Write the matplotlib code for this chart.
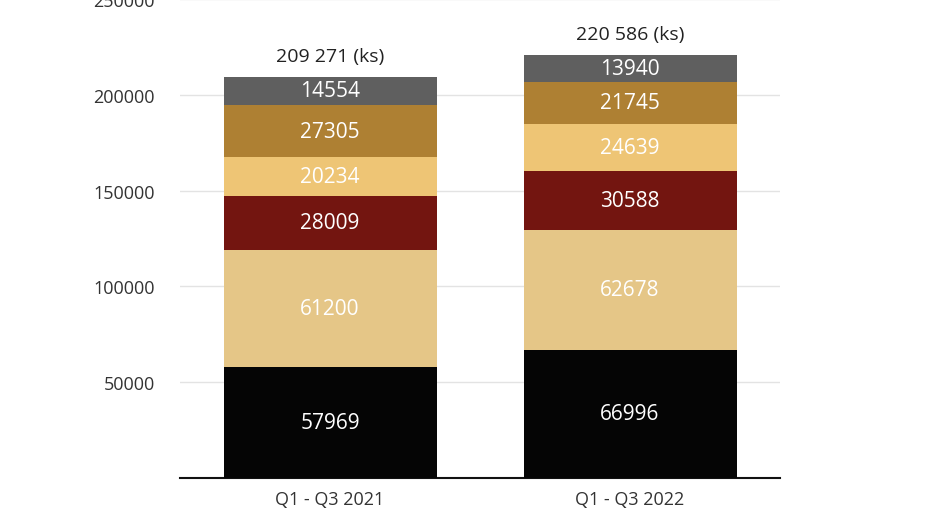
import matplotlib
matplotlib.use("Agg")
import matplotlib.pyplot as plt

categories = ["Q1 - Q3 2021", "Q1 - Q3 2022"]
s1 = [57969, 66996]
s2 = [61200, 62678]
s3 = [28009, 30588]
s4 = [20234, 24639]
s5 = [27305, 21745]
s6 = [14554, 13940]
totals_labels = ["209 271 (ks)", "220 586 (ks)"]
series = [s1, s2, s3, s4, s5, s6]
colors = ["#050505", "#E5C687", "#731510", "#EEC575", "#AE8033", "#5F5F5F"]

plt.rcParams["font.family"] = "Open Sans"
fig = plt.figure(figsize=(9.4, 5.1), dpi=100)
ax = fig.add_axes([180/940, 31/510, 600/940, 479/510])
x = list(range(len(categories)))
bottoms = [0]*len(categories)
for vals, c in zip(series, colors):
    ax.bar(x, vals, bottom=bottoms, width=0.71, color=c, zorder=3)
    for i, v in enumerate(vals):
        ax.text(x[i], bottoms[i] + v/2, str(v), ha="center", va="center",
                color="white", fontsize=15, zorder=4)
    bottoms = [b + v for b, v in zip(bottoms, vals)]
for i, t in enumerate(totals_labels):
    ax.text(x[i], bottoms[i] + 6500, t, ha="center", va="bottom", fontsize=14, color="#222222")
ax.set_xlim(-0.5, 1.5)
ax.set_ylim(0, 247700)
ax.set_yticks([0, 50000, 100000, 150000, 200000, 250000])
ax.set_yticklabels(["", "50000", "100000", "150000", "200000", "250000"])
ax.yaxis.grid(True, color="#E3E3E3", linewidth=1, zorder=0)
ax.set_xticks(x)
ax.set_xticklabels(categories)
ax.tick_params(axis="both", length=0, labelsize=13, colors="#333333", pad=18)
ax.tick_params(axis="x", pad=9)
for s in ["top", "right", "left"]:
    ax.spines[s].set_visible(False)
ax.spines["bottom"].set_color("#111111")
ax.spines["bottom"].set_linewidth(1.5)
fig.savefig("out.png", dpi=100)
